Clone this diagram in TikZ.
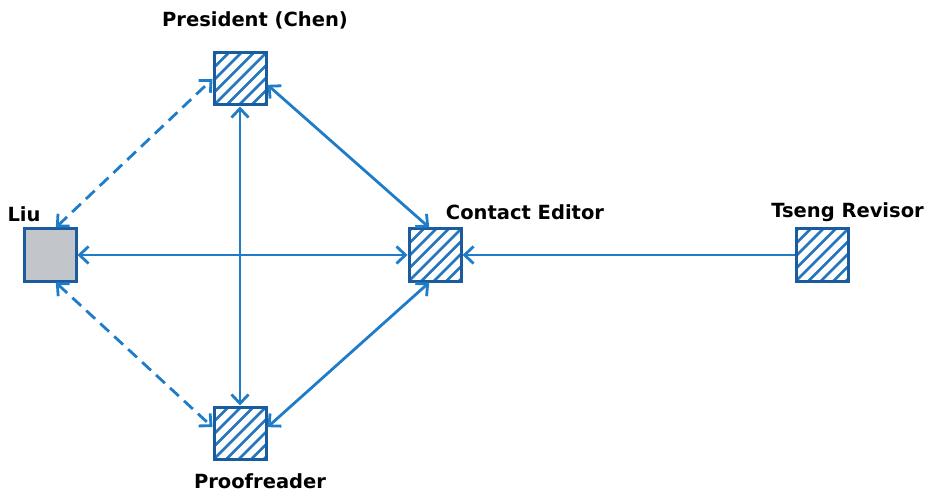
\documentclass[tikz,border=0pt]{standalone}
\usepackage{fontspec}
\setmainfont{DejaVu Sans}
\usetikzlibrary{arrows.meta}
\definecolor{linkblue}{HTML}{1E7CC8}
\definecolor{edgeblue}{HTML}{1B5C9E}
\definecolor{hatchblue}{HTML}{2575BF}
\definecolor{liugray}{HTML}{C2C6CA}
\tikzset{
  unit/.style={draw=edgeblue, line width=3pt, minimum size=52pt, inner sep=0pt, fill=white},
  hatched/.style={unit, path picture={
      \foreach \k in {-75,-62.5,...,75}
        \draw[hatchblue, line width=2.7pt]
          ([xshift=\k pt-40pt, yshift=-40pt]path picture bounding box.center) -- ++(80pt,80pt);}},
  plain/.style={unit, fill=liugray},
  lbl/.style={font=\bfseries\fontsize{19.5}{22}\selectfont, text=black, inner sep=0pt},
  link/.style={linkblue, line width=2.8pt, {Straight Barb[length=9pt,width=17pt]}-{Straight Barb[length=9pt,width=17pt]}},
  onelink/.style={linkblue, line width=2.8pt, -{Straight Barb[length=9pt,width=17pt]}},
  weak/.style={link, dash pattern=on 12pt off 7pt}
}
\begin{document}
\begin{tikzpicture}[x=1pt, y=-1pt]
\useasboundingbox (0,0) rectangle (928,494);

% the five roles
\node[hatched] (pres)  at (240,79)  {};
\node[plain]   (liu)   at (50,255)  {};
\node[hatched] (ce)    at (435,255) {};
\node[hatched] (tseng) at (822,255) {};
\node[hatched] (proof) at (240,433) {};

% role names
\node[lbl] (presL)  at (255,20)  {President (Chen)};
\node[lbl] (liuL)   at (24,214)  {Liu};
\node[lbl] (ceL)    at (525,212) {Contact Editor};
\node[lbl, anchor=east] (tsengL) at (924,212) {Tseng Revisor};
\node[lbl] (proofL) at (260,481) {Proofreader};

% communication links
\draw[link] (pres.south) -- (proof.north);
\draw[link] (liu.east) -- (ce.west);
\draw[link] (pres.-12) -- (ce.102);
\draw[link] (ce.-102) -- (proof.12);
\draw[onelink] (tseng.west) -- (ce.east);
\draw[weak] (liu.78) -- (pres.west);
\draw[weak] (liu.-78) -- (proof.168);
\end{tikzpicture}
\end{document}
